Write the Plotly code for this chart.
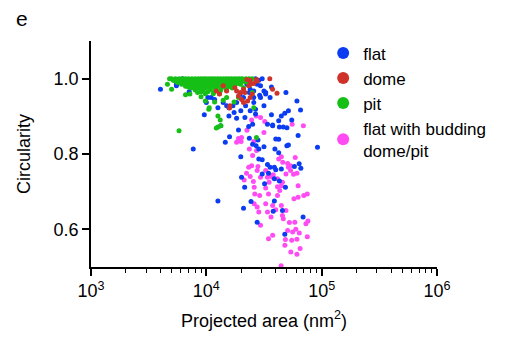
import plotly.graph_objects as go

# ---- data (projected area in nm^2, circularity) ----
flat_area = [4000, 5500, 5500, 7100, 7700, 9600, 10000, 11000, 12600, 12600, 13300, 14600,
             15700, 15700, 15900, 17400, 18300, 19000, 19900, 19900, 20200, 21000, 21500, 21600,
             21900, 23300, 23600, 24000, 24400, 25200, 25200, 25800, 25800, 25800, 26700, 26700,
             27000, 27600, 28000, 28500, 28500, 29000, 29500, 30500, 30500, 31600, 31600, 31600,
             32000, 32700, 32700, 33900, 33900, 34600, 35700, 35700, 36700, 36700, 37600, 37600,
             38000, 38900, 38900, 38900, 39300, 40000, 40000, 42400, 42400, 42400, 43000, 43000,
             44700, 44700, 45700, 46500, 47900, 47900, 48500, 49000, 49900, 50000, 51500, 51500,
             55000, 58000, 61000, 62500, 63800, 65600, 66000, 69000, 92000,
             20300, 22500, 24000, 26700, 28500, 30500, 23600, 21000, 18300, 17000, 15000, 14000,
             11800, 10300, 19600, 27600, 29500, 6200, 8100]
flat_circ = [0.972, 0.985, 0.981, 0.965, 0.813, 0.904, 0.937, 0.950, 0.923, 0.675, 0.875, 0.831,
             0.923, 0.901, 0.846, 0.910, 0.895, 0.864, 0.915, 0.793, 0.738, 0.656, 0.712, 0.897,
             0.928, 0.873, 0.842, 0.915, 0.674, 0.879, 0.826, 0.967, 0.950, 0.937, 0.919, 0.906,
             0.822, 0.619, 0.837, 0.813, 0.787, 0.956, 0.950, 0.785, 0.747, 0.967, 0.928, 0.819,
             0.721, 0.963, 0.959, 0.879, 0.772, 0.749, 0.950, 0.765, 0.978, 0.904, 0.875, 0.877,
             0.648, 0.765, 0.734, 0.675, 0.813, 0.840, 0.758, 0.888, 0.839, 0.803, 0.872, 0.728,
             0.901, 0.760, 0.650, 0.872, 0.908, 0.587, 0.712, 0.963, 0.822, 0.870, 0.915, 0.824,
             0.890, 0.767, 0.941, 0.849, 0.774, 0.917, 0.762, 0.633, 0.818,
             0.994, 0.985, 0.972, 1.000, 0.996, 1.000, 0.963, 0.950, 0.937, 0.928, 0.928, 0.937,
             0.945, 0.950, 0.959, 0.985, 0.981, 1.000, 0.994]

dome_area = [35500, 27200, 24000, 25800, 23300, 21000, 19800, 19000, 20200, 21000, 22800, 15900,
             16000, 37500, 41000, 25000, 27600, 13000, 12200, 15000, 17700, 22500, 21600, 24000,
             18300, 24000, 14000]
dome_circ = [1.000, 0.998, 0.996, 0.987, 0.981, 0.972, 0.963, 0.954, 0.945, 0.937, 0.941, 0.922,
             0.928, 0.972, 0.961, 0.959, 0.994, 0.959, 0.967, 0.967, 0.976, 0.998, 0.963, 0.950,
             0.967, 0.985, 0.981]

pit_area = [4800, 4600, 5000, 5800, 6600, 7200, 6700, 8400, 9000, 9800, 10500, 10600, 12600, 13200,
            12200, 12600, 13400, 11800, 14000, 15000, 17400, 19000, 25800, 27200, 25000, 24000,
            22500, 21000,
            5000, 5400, 5800, 6200, 6600, 7000, 7500, 8000, 8500, 9000, 9500, 10000, 10600, 11200,
            11800, 12500, 13200, 14000, 14800, 15600, 16500, 17500, 18500, 19500, 20500, 22000,
            23500, 25000,
            5200, 6000, 6800, 7700, 8700, 9800, 11000, 12200, 13600, 15200, 17000, 19000, 21000,
            5600, 6400, 7300, 8300, 9300, 10400, 11600, 12900, 14400, 16000, 18000, 20000, 23000,
            6100, 7100, 8100, 9100, 10200, 11400, 12700, 14200, 15800, 17800, 19800,
            6600, 7600, 8800, 9900, 11100, 12400, 13800, 15400, 17200,
            7400, 8600, 9700, 10900, 12100, 13500, 15100, 16800,
            8000, 9400, 10700, 12000, 13300, 14900,
            9000, 10300, 11700, 13100,
            9800, 11500, 13000,
            5100, 5700, 6400, 7200, 8100, 9200, 10300, 11500, 12900, 14500, 16200, 18100, 20200, 22700,
            5900, 6700, 7600, 8600, 9700, 10900, 12200, 13700, 15400, 17300, 19400, 21800,
            6300, 7300, 8400, 9500, 10700, 12000, 13500, 15100, 16900, 18900,
            7000, 8200, 9300, 10500, 11900, 13300, 14800, 16500]
pit_circ = [1.000, 0.985, 0.972, 0.862, 0.957, 0.959, 0.981, 0.963, 0.952, 0.941, 0.919, 0.923,
            0.901, 0.890, 0.869, 0.872, 0.875, 0.938, 0.943, 0.950, 0.938, 0.950, 0.923, 0.844,
            0.963, 0.985, 0.994, 0.976] + \
           [1.000] * 28 + [0.995] * 13 + [0.990] * 13 + [0.985] * 11 + [0.980] * 9 + \
           [0.975] * 8 + [0.970] * 6 + [0.965] * 4 + [0.960] * 3 + \
           [0.998] * 14 + [0.992] * 12 + [0.987] * 10 + [0.978] * 8

bud_area = [27000, 29500, 32100, 24700, 22500, 20000, 19000, 23600, 25200, 23300, 24700, 27600,
            28000, 29500, 32700, 33900, 35000, 21300, 26000, 29000, 32700, 34600, 26000, 27600,
            28500, 32700, 29500, 37600, 40000, 41400, 43300, 44700, 45700, 49000, 51500, 42400,
            44700, 46000, 59000, 57000, 61000, 62500, 70000, 75000, 57500, 62500, 44700, 49000,
            45700, 46500, 52500, 58500, 73000, 76000, 64000, 59700, 48500, 55000, 61000, 75000,
            34600, 37600, 48000, 54000, 61000, 65000, 44500, 22300, 24000, 25600, 26300, 36400,
            38000, 41400, 50700, 53700, 53700, 55500, 69400, 18300, 20200, 31600, 25800, 27200,
            37600, 41400, 33900, 36400, 50700, 56000]
bud_circ = [0.901, 0.897, 0.886, 0.890, 0.863, 0.833, 0.841, 0.813, 0.796, 0.765, 0.769, 0.756,
            0.767, 0.738, 0.756, 0.738, 0.725, 0.731, 0.712, 0.690, 0.710, 0.694, 0.668, 0.659,
            0.646, 0.668, 0.611, 0.663, 0.652, 0.690, 0.703, 0.716, 0.725, 0.747, 0.765, 0.787,
            0.793, 0.778, 0.791, 0.746, 0.749, 0.716, 0.690, 0.694, 0.681, 0.685, 0.663, 0.650,
            0.637, 0.628, 0.618, 0.619, 0.615, 0.622, 0.590, 0.600, 0.573, 0.571, 0.574, 0.580,
            0.575, 0.584, 0.558, 0.540, 0.534, 0.549, 0.503, 0.749, 0.740, 0.727, 0.694, 0.741,
            0.745, 0.713, 0.775, 0.769, 0.756, 0.879, 0.875, 0.831, 0.844, 0.857, 0.833, 0.809,
            0.738, 0.734, 0.646, 0.633, 0.597, 0.593]

x_tickvals = [1e3, 1e4, 1e5, 1e6]
x_ticktext = ["10<sup>3</sup>", "10<sup>4</sup>", "10<sup>5</sup>", "10<sup>6</sup>"]
y_tickvals = [0.6, 0.8, 1.0]
y_ticktext = ["0.6", "0.8", "1.0"]

BLUE = "#0b3cf2"
RED = "#cf3229"
GREEN = "#16bf16"
PINK = "#ff4cf2"

fig = go.Figure()
ms = 5
fig.add_trace(go.Scatter(x=bud_area, y=bud_circ, mode="markers", name="flat with budding<br>dome/pit",
                         marker=dict(color=PINK, size=ms), legendrank=4))
fig.add_trace(go.Scatter(x=flat_area, y=flat_circ, mode="markers", name="flat",
                         marker=dict(color=BLUE, size=ms), legendrank=1))
fig.add_trace(go.Scatter(x=pit_area, y=pit_circ, mode="markers", name="pit",
                         marker=dict(color=GREEN, size=ms), legendrank=3))
fig.add_trace(go.Scatter(x=dome_area, y=dome_circ, mode="markers", name="dome",
                         marker=dict(color=RED, size=ms), legendrank=2))

font = "Liberation Sans, Arial, sans-serif"
fig.update_layout(
    width=519, height=339,
    margin=dict(l=83, r=90, t=33, b=80, autoexpand=False),
    plot_bgcolor="white", paper_bgcolor="white",
    font=dict(family=font, size=18, color="black"),
    showlegend=True,
    legend=dict(x=0.671, y=1.025, xanchor="left", yanchor="top", itemsizing="constant",
                font=dict(size=17), tracegroupgap=0, bgcolor="rgba(0,0,0,0)",
                itemwidth=30, traceorder="normal"),
    xaxis=dict(type="log", range=[3, 6], showline=True, linecolor="black", linewidth=1.5,
               ticks="outside", ticklen=7, tickwidth=1.5, tickcolor="black",
               tickvals=x_tickvals, ticktext=x_ticktext, showgrid=False, zeroline=False,
               minor=dict(ticks="outside", ticklen=4, tickwidth=1.2, tickcolor="black",
                          dtick="D1", showgrid=False),
               title=dict(text="Projected area (nm<sup>2</sup>)", standoff=14, font=dict(size=18))),
    yaxis=dict(range=[0.5, 1.1], showline=True, linecolor="black", linewidth=1.5,
               ticks="outside", ticklen=7, tickwidth=1.5, tickcolor="black",
               tickvals=y_tickvals, ticktext=y_ticktext, showgrid=False, zeroline=False,
               title=dict(text="Circularity", standoff=18, font=dict(size=18))),
    annotations=[dict(text="e", x=-0.2, y=1.1, xref="paper", yref="paper", showarrow=False,
                      xanchor="center", yanchor="middle", font=dict(size=21))],
)
fig.write_html("out.html")
